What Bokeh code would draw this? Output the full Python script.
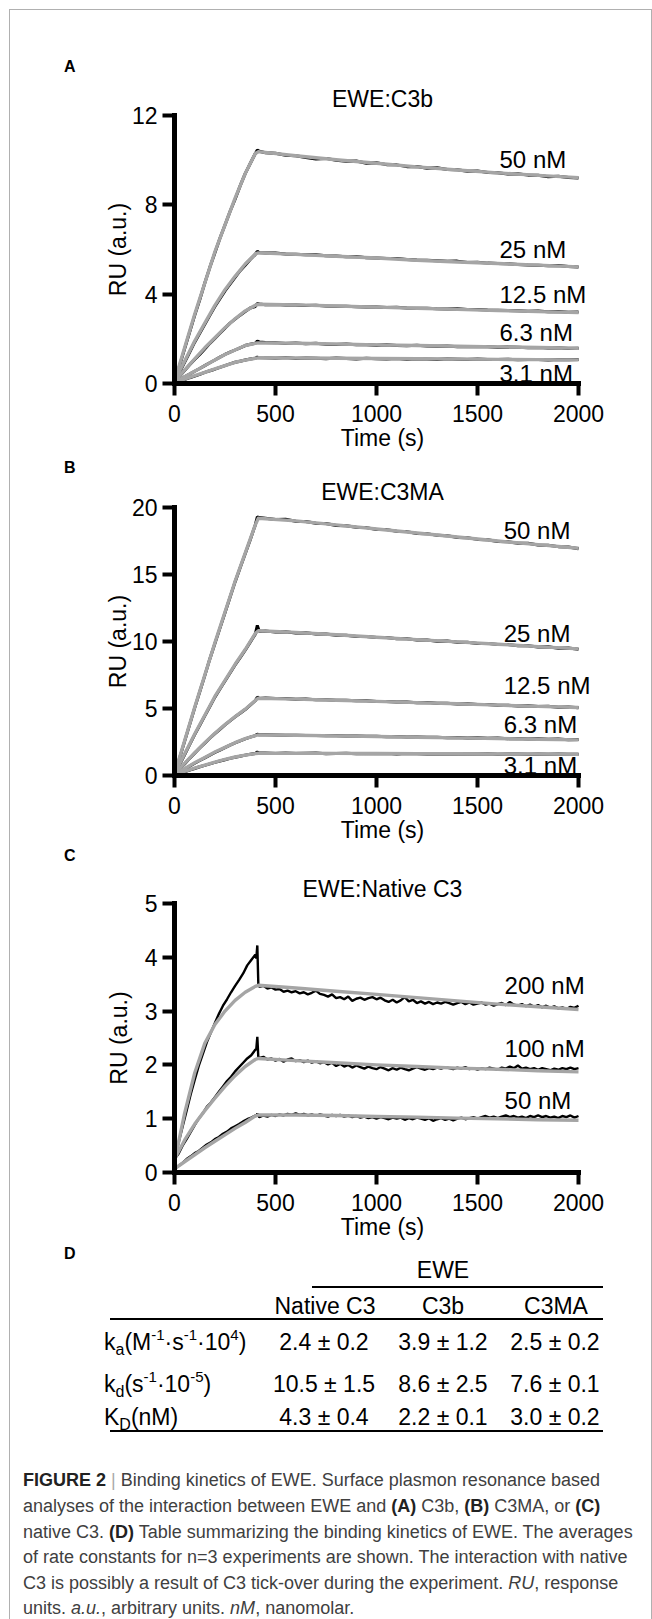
from bokeh.plotting import figure
from bokeh.models import Range1d, FixedTicker, Label, Div
from bokeh.layouts import column
from bokeh.embed import file_html
from bokeh.resources import INLINE

FONT = "Liberation Sans"
CSS_FONT = "'Liberation Sans',Arial,sans-serif"
GRAY = "#a5a5a5"

# ---------------- data ----------------
X_TICKS = [0, 500, 1000, 1500, 2000]

FIT_T = [0, 50, 100, 150, 200, 250, 300, 350, 400, 415, 600, 800, 1000, 1200, 1400, 1600, 1800, 2000]

TRACE_T = [0, 25, 50, 75, 100, 125, 150, 175, 200, 225, 250, 275, 300, 325, 350, 375, 400, 410, 420,
           450, 500, 550, 600, 650, 700, 750, 800, 850, 900, 950, 1000, 1050, 1100, 1150, 1200, 1250,
           1300, 1350, 1400, 1450, 1500, 1550, 1600, 1650, 1700, 1750, 1800, 1850, 1900, 1950, 2000]

# Panel A: EWE:C3b
A_LABELS = ["50 nM", "25 nM", "12.5 nM", "6.3 nM", "3.1 nM"]
A_YTICKS = [0, 4, 8, 12]
A_FIT_50 = [0.1, 1.6, 3.1, 4.5, 5.9, 7.1, 8.3, 9.4, 10.3, 10.38, 10.2, 10.02, 9.86, 9.7, 9.56, 9.43, 9.32, 9.22]
A_FIT_25 = [0.1, 1.0, 1.9, 2.7, 3.5, 4.2, 4.8, 5.35, 5.8, 5.85, 5.78, 5.7, 5.62, 5.52, 5.44, 5.37, 5.3, 5.22]
A_FIT_12 = [0.1, 0.6, 1.1, 1.6, 2.05, 2.5, 2.9, 3.25, 3.5, 3.55, 3.52, 3.47, 3.42, 3.37, 3.32, 3.27, 3.22, 3.18]
A_FIT_6 = [0.05, 0.3, 0.55, 0.8, 1.05, 1.3, 1.5, 1.7, 1.8, 1.82, 1.8, 1.77, 1.73, 1.7, 1.67, 1.64, 1.61, 1.58]
A_FIT_3 = [0.05, 0.2, 0.35, 0.5, 0.65, 0.8, 0.95, 1.05, 1.13, 1.15, 1.14, 1.13, 1.12, 1.11, 1.1, 1.08, 1.07, 1.06]

A_TR_50 = [0.0, 0.8, 1.55, 2.3, 3.05, 3.75, 4.5, 5.2, 5.85, 6.5, 7.1, 7.7, 8.25, 8.85, 9.4, 9.85, 10.3, 10.45, 10.4,
           10.33, 10.31, 10.22, 10.2, 10.12, 10.05, 10.08, 10.0, 9.95, 9.96, 9.86, 9.88, 9.8, 9.79, 9.71, 9.72,
           9.64, 9.66, 9.58, 9.57, 9.5, 9.52, 9.45, 9.44, 9.38, 9.39, 9.33, 9.32, 9.26, 9.28, 9.22, 9.2]
A_TR_25 = [0.0, 0.5, 0.95, 1.4, 1.85, 2.25, 2.65, 3.05, 3.45, 3.8, 4.15, 4.45, 4.75, 5.05, 5.3, 5.55, 5.78, 5.92, 5.86,
           5.84, 5.84, 5.8, 5.79, 5.76, 5.77, 5.72, 5.71, 5.68, 5.69, 5.63, 5.62, 5.6, 5.6, 5.55, 5.53,
           5.52, 5.5, 5.47, 5.48, 5.42, 5.43, 5.39, 5.37, 5.36, 5.33, 5.31, 5.3, 5.27, 5.28, 5.24, 5.22]
A_TR_12 = [0.0, 0.33, 0.58, 0.84, 1.08, 1.3, 1.55, 1.8, 2.02, 2.25, 2.48, 2.7, 2.88, 3.06, 3.22, 3.38, 3.45, 3.58, 3.56,
           3.53, 3.54, 3.51, 3.52, 3.49, 3.5, 3.47, 3.46, 3.46, 3.44, 3.42, 3.43, 3.4, 3.41, 3.38, 3.37,
           3.37, 3.35, 3.34, 3.35, 3.31, 3.31, 3.29, 3.28, 3.27, 3.26, 3.24, 3.25, 3.21, 3.22, 3.19, 3.2]
A_TR_6 = [0.0, 0.17, 0.3, 0.42, 0.55, 0.67, 0.8, 0.93, 1.05, 1.18, 1.3, 1.4, 1.5, 1.6, 1.7, 1.76, 1.8, 1.9, 1.86,
          1.84, 1.83, 1.79, 1.81, 1.78, 1.8, 1.76, 1.75, 1.77, 1.73, 1.74, 1.71, 1.73, 1.7, 1.69, 1.71,
          1.68, 1.67, 1.68, 1.65, 1.66, 1.64, 1.65, 1.62, 1.63, 1.62, 1.6, 1.61, 1.59, 1.6, 1.57, 1.58]
A_TR_3 = [0.0, 0.1, 0.18, 0.26, 0.33, 0.41, 0.5, 0.57, 0.64, 0.72, 0.8, 0.88, 0.95, 1.0, 1.05, 1.1, 1.13, 1.18, 1.16,
          1.15, 1.13, 1.16, 1.12, 1.14, 1.13, 1.11, 1.14, 1.12, 1.1, 1.13, 1.11, 1.1, 1.12, 1.09, 1.11,
          1.1, 1.08, 1.11, 1.09, 1.07, 1.1, 1.08, 1.07, 1.09, 1.06, 1.08, 1.07, 1.05, 1.08, 1.06, 1.07]

# Panel B: EWE:C3MA
B_LABELS = ["50 nM", "25 nM", "12.5 nM", "6.3 nM", "3.1 nM"]
B_YTICKS = [0, 5, 10, 15, 20]
B_FIT_50 = [0.1, 2.6, 5.1, 7.5, 9.9, 12.2, 14.5, 16.6, 18.7, 19.2, 19.0, 18.7, 18.4, 18.1, 17.8, 17.5, 17.23, 16.96]
B_FIT_25 = [0.1, 1.6, 3.1, 4.5, 5.9, 7.1, 8.3, 9.4, 10.6, 10.8, 10.68, 10.5, 10.32, 10.14, 9.97, 9.8, 9.62, 9.45]
B_FIT_12 = [0.1, 0.9, 1.7, 2.45, 3.15, 3.8, 4.4, 4.95, 5.6, 5.77, 5.7, 5.62, 5.53, 5.44, 5.35, 5.25, 5.16, 5.07]
B_FIT_6 = [0.05, 0.5, 0.95, 1.35, 1.75, 2.1, 2.45, 2.75, 2.98, 3.03, 3.0, 2.96, 2.91, 2.86, 2.81, 2.76, 2.71, 2.66]
B_FIT_3 = [0.05, 0.3, 0.55, 0.78, 1.0, 1.2, 1.38, 1.52, 1.63, 1.66, 1.66, 1.65, 1.64, 1.63, 1.62, 1.61, 1.6, 1.59]

B_TR_50 = [0.0, 1.3, 2.55, 3.8, 5.05, 6.25, 7.45, 8.7, 9.85, 11.0, 12.15, 13.3, 14.45, 15.5, 16.55, 17.6, 18.7, 19.3, 19.25,
           19.2, 19.1, 19.12, 18.98, 18.95, 18.82, 18.8, 18.66, 18.64, 18.52, 18.5, 18.36, 18.35, 18.22, 18.2, 18.06,
           18.05, 17.92, 17.9, 17.76, 17.75, 17.62, 17.6, 17.46, 17.45, 17.34, 17.33, 17.2, 17.18, 17.08, 17.05, 16.92]
B_TR_25 = [0.0, 0.8, 1.55, 2.3, 3.05, 3.75, 4.45, 5.15, 5.85, 6.45, 7.05, 7.65, 8.25, 8.8, 9.35, 9.95, 10.55, 11.2, 10.75,
           10.78, 10.7, 10.73, 10.64, 10.65, 10.56, 10.56, 10.47, 10.47, 10.38, 10.38, 10.29, 10.3, 10.2, 10.2, 10.11,
           10.12, 10.02, 10.03, 9.94, 9.95, 9.85, 9.86, 9.77, 9.77, 9.68, 9.69, 9.59, 9.6, 9.5, 9.51, 9.42]
B_TR_12 = [0.0, 0.48, 0.86, 1.28, 1.66, 2.05, 2.42, 2.78, 3.12, 3.45, 3.78, 4.08, 4.38, 4.65, 4.92, 5.25, 5.58, 5.85, 5.75,
           5.78, 5.74, 5.74, 5.69, 5.7, 5.66, 5.66, 5.61, 5.62, 5.57, 5.58, 5.52, 5.53, 5.48, 5.49, 5.43,
           5.44, 5.39, 5.39, 5.34, 5.35, 5.29, 5.3, 5.24, 5.25, 5.19, 5.21, 5.15, 5.16, 5.1, 5.12, 5.06]
B_TR_6 = [0.0, 0.25, 0.48, 0.7, 0.92, 1.12, 1.32, 1.52, 1.72, 1.9, 2.08, 2.26, 2.43, 2.58, 2.73, 2.86, 2.98, 3.08, 3.04,
          3.04, 3.02, 3.0, 3.01, 2.98, 2.99, 2.96, 2.97, 2.94, 2.95, 2.92, 2.93, 2.89, 2.91, 2.87, 2.88,
          2.85, 2.86, 2.82, 2.84, 2.8, 2.81, 2.78, 2.79, 2.75, 2.77, 2.73, 2.74, 2.7, 2.72, 2.67, 2.68]
B_TR_3 = [0.0, 0.15, 0.28, 0.4, 0.52, 0.65, 0.76, 0.87, 0.98, 1.08, 1.18, 1.28, 1.36, 1.44, 1.52, 1.58, 1.64, 1.75, 1.68,
          1.67, 1.65, 1.68, 1.64, 1.66, 1.67, 1.63, 1.65, 1.66, 1.62, 1.65, 1.63, 1.64, 1.61, 1.64, 1.62,
          1.6, 1.63, 1.61, 1.62, 1.6, 1.61, 1.62, 1.59, 1.61, 1.6, 1.58, 1.61, 1.59, 1.6, 1.58, 1.59]

# Panel C: EWE:Native C3
C_LABELS = ["200 nM", "100 nM", "50 nM"]
C_YTICKS = [0, 1, 2, 3, 4, 5]
C_FIT_200 = [0.2, 1.1, 1.85, 2.4, 2.75, 3.0, 3.2, 3.35, 3.46, 3.48, 3.43, 3.37, 3.31, 3.25, 3.19, 3.13, 3.08, 3.03]
C_FIT_100 = [0.25, 0.6, 0.9, 1.15, 1.38, 1.6, 1.8, 1.97, 2.1, 2.12, 2.08, 2.04, 2.0, 1.97, 1.94, 1.92, 1.89, 1.87]
C_FIT_50 = [0.07, 0.2, 0.33, 0.46, 0.58, 0.7, 0.82, 0.93, 1.05, 1.07, 1.07, 1.06, 1.04, 1.03, 1.01, 1.0, 0.98, 0.97]

C_TRACE_T = [0, 20, 40, 60, 80, 100, 120, 140, 160, 180, 200, 220, 240, 260, 280, 300, 320, 340, 360, 380,
             400, 405, 410, 415,
             420, 440, 460, 480, 500, 520, 540, 560, 580, 600, 620, 640, 660, 680, 700, 720, 740, 760, 780, 800,
             820, 840, 860, 880, 900, 920, 940, 960, 980, 1000, 1020, 1040, 1060, 1080, 1100, 1120, 1140, 1160,
             1180, 1200, 1220, 1240, 1260, 1280, 1300, 1320, 1340, 1360, 1380, 1400, 1420, 1440, 1460, 1480,
             1500, 1520, 1540, 1560, 1580, 1600, 1620, 1640, 1660, 1680, 1700, 1720, 1740, 1760, 1780, 1800,
             1820, 1840, 1860, 1880, 1900, 1920, 1940, 1960, 1980, 2000]
C_TR_200 = [0.25, 0.55, 0.85, 1.15, 1.45, 1.72, 1.98, 2.2, 2.42, 2.6, 2.78, 2.95, 3.1, 3.22, 3.35, 3.47, 3.58, 3.7,
            3.85, 3.95, 4.05, 3.98, 4.22, 3.5,
            3.45, 3.47, 3.42, 3.44, 3.4, 3.41, 3.36, 3.38, 3.35, 3.37,
            3.33, 3.35, 3.31, 3.34, 3.38, 3.32, 3.3, 3.27, 3.31, 3.24,
            3.26, 3.22, 3.27, 3.19, 3.23, 3.25, 3.21, 3.24, 3.26, 3.22,
            3.25, 3.2, 3.17, 3.21, 3.16, 3.2, 3.26, 3.18, 3.21, 3.15,
            3.18, 3.14, 3.17, 3.13, 3.16, 3.14, 3.17, 3.15, 3.12, 3.15,
            3.17, 3.13, 3.16, 3.12, 3.14, 3.16, 3.12, 3.14, 3.1, 3.13,
            3.15, 3.11, 3.17, 3.12, 3.1, 3.13, 3.09, 3.12, 3.08, 3.11,
            3.07, 3.1, 3.06, 3.09, 3.05, 3.07, 3.04, 3.08, 3.06, 3.1]
C_TR_100 = [0.25, 0.35, 0.5, 0.62, 0.75, 0.88, 1.0, 1.1, 1.22, 1.3, 1.4, 1.5, 1.6, 1.7, 1.78, 1.88, 1.96, 2.04,
            2.12, 2.18, 2.28, 2.3, 2.52, 2.14,
            2.13, 2.15, 2.1, 2.12, 2.08, 2.11, 2.06, 2.1, 2.12, 2.07,
            2.09, 2.05, 2.08, 2.04, 2.07, 2.03, 2.05, 2.01, 2.04, 1.98,
            2.02, 1.97, 2.0, 1.95, 1.99, 1.96, 1.93, 1.97, 1.94, 1.92,
            1.96, 1.93, 1.9, 1.94, 1.91, 1.95, 1.92, 1.9, 1.93, 1.96,
            1.93, 1.91, 1.94, 1.92, 1.95, 1.93, 1.96, 1.94, 1.92, 1.95,
            1.93, 1.96, 1.92, 1.94, 1.91, 1.94, 1.92, 1.95, 1.93, 1.91,
            1.95, 1.93, 1.97, 1.94, 1.99, 1.93, 1.95, 1.92, 1.94, 1.91,
            1.94, 1.92, 1.9, 1.93, 1.91, 1.94, 1.92, 1.95, 1.92, 1.94]
C_TR_50 = [0.07, 0.12, 0.18, 0.25, 0.3, 0.36, 0.4, 0.46, 0.52, 0.56, 0.62, 0.66, 0.72, 0.76, 0.82, 0.86, 0.9, 0.95,
           0.99, 1.02, 1.06, 1.04, 1.1, 1.05,
           1.03, 1.06, 1.04, 1.07, 1.05, 1.08, 1.06, 1.09, 1.07, 1.1,
           1.07, 1.09, 1.06, 1.08, 1.05, 1.08, 1.06, 1.04, 1.07, 1.05,
           1.07, 1.04, 1.06, 1.03, 1.05, 1.02, 1.04, 1.01, 1.03, 1.0,
           1.03, 1.01, 0.99, 1.02, 1.0, 1.02, 0.98, 1.01, 0.99, 1.02,
           1.0, 0.98, 1.01, 0.96, 0.99, 1.01, 0.98, 1.0, 0.97, 1.0,
           1.02, 0.99, 1.01, 1.03, 1.0, 1.03, 1.05, 1.02, 1.04, 1.01,
           1.04, 1.06, 1.03, 1.05, 1.02, 1.04, 1.01, 1.05, 1.03, 1.06,
           1.03, 1.05, 1.02, 1.04, 1.01, 1.05, 1.03, 1.06, 1.02, 1.05]

# Panel D: table
TABLE_GROUP = "EWE"
TABLE_COLS = ["Native C3", "C3b", "C3MA"]
KA_VALUES = ["2.4 ± 0.2", "3.9 ± 1.2", "2.5 ± 0.2"]
KOFF_VALUES = ["10.5 ± 1.5", "8.6 ± 2.5", "7.6 ± 0.1"]
KDEQ_VALUES = ["4.3 ± 0.4", "2.2 ± 0.1", "3.0 ± 0.2"]

# ---------------- layout constants ----------------
CONTENT_W = 641
FRAME_LEFT = 164          # from content left edge
PX_PER_S = 404 / 2000     # x scale of the plot frames
FRAME_W = 416             # frame extends a little right of t=2000 so the labels are not clipped
X_END = FRAME_W / PX_PER_S


def letter_div(letter, height, letter_top):
    html = (f'<div style="position:relative;width:{CONTENT_W}px;height:{height}px;'
            f'font-family:{CSS_FONT};color:#000;">'
            f'<div style="position:absolute;left:54px;top:{letter_top}px;font-size:16px;line-height:16px;'
            f'font-weight:bold;">{letter}</div></div>')
    return Div(text=html, width=CONTENT_W, height=height, margin=0)


def make_panel(title, title_standoff, ymax, yticks, fits, traces, trace_t, trace_w, labels, label_x, label_y,
               top, bottom, frame_h, ylab_standoff):
    p = figure(frame_width=FRAME_W, frame_height=frame_h,
               min_border_left=FRAME_LEFT, min_border_right=CONTENT_W - FRAME_LEFT - FRAME_W,
               min_border_top=top, min_border_bottom=bottom,
               x_range=Range1d(0, X_END), y_range=Range1d(0, ymax),
               toolbar_location=None, tools="", output_backend="svg", margin=0, title=title)
    p.background_fill_color = "white"
    p.border_fill_color = "white"
    p.outline_line_color = None
    p.grid.visible = False

    p.title.align = "center"
    p.title.offset = -(FRAME_W - 404) / 2 - 2
    p.title.standoff = title_standoff
    p.title.text_font = FONT
    p.title.text_font_size = "23px"
    p.title.text_font_style = "normal"
    p.title.text_color = "black"

    for tv in traces:
        n = min(len(trace_t), len(tv))
        p.line(trace_t[:n], tv[:n], line_color="black", line_width=trace_w)
    for fv in fits:
        p.line(FIT_T, fv, line_color=GRAY, line_width=3.4, line_join="round")

    p.xaxis.ticker = FixedTicker(ticks=X_TICKS)
    p.yaxis.ticker = FixedTicker(ticks=yticks)
    p.xaxis.bounds = (0, 2000)
    p.xaxis.axis_label = "Time (s)"
    p.yaxis.axis_label = "RU (a.u.)"
    for ax in (p.xaxis, p.yaxis):
        ax.axis_line_width = 5
        ax.axis_line_color = "black"
        ax.axis_line_cap = "square"
        ax.major_tick_line_width = 4
        ax.major_tick_line_color = "black"
        ax.major_tick_out = 12
        ax.major_tick_in = 0
        ax.minor_tick_line_color = None
        ax.major_label_text_font = FONT
        ax.major_label_text_font_size = "23px"
        ax.major_label_text_color = "black"
        ax.axis_label_text_font = FONT
        ax.axis_label_text_font_size = "23px"
        ax.axis_label_text_font_style = "normal"
        ax.axis_label_text_color = "black"
    p.xaxis.major_label_standoff = 9
    p.xaxis.axis_label_standoff = 0
    p.yaxis.major_label_standoff = 5
    p.yaxis.axis_label_standoff = ylab_standoff

    for txt, yy in zip(labels, label_y):
        p.add_layout(Label(x=label_x, y=yy, text=txt, text_font=FONT, text_font_size="24px",
                           text_align="left", text_baseline="alphabetic", text_color="black"))
    return p


hA = letter_div("A", 66, 49)
pA = make_panel("EWE:C3b", 7, 12, A_YTICKS,
                [A_FIT_50, A_FIT_25, A_FIT_12, A_FIT_6, A_FIT_3],
                [A_TR_50, A_TR_25, A_TR_12, A_TR_6, A_TR_3], TRACE_T, 3.0,
                A_LABELS, 1609, [10.01, 6.0, 3.97, 2.27, 0.47],
                top=39, bottom=72, frame_h=268, ylab_standoff=-2)
hB = letter_div("B", 19, 5)
pB = make_panel("EWE:C3MA", 5, 20, B_YTICKS,
                [B_FIT_50, B_FIT_25, B_FIT_12, B_FIT_6, B_FIT_3],
                [B_TR_50, B_TR_25, B_TR_12, B_TR_6, B_TR_3], TRACE_T, 3.0,
                B_LABELS, 1630, [18.26, 10.56, 6.7, 3.84, 0.73],
                top=32, bottom=68, frame_h=268, ylab_standoff=-2)
hC = letter_div("C", 18, 3)
pC = make_panel("EWE:Native C3", 3, 5, C_YTICKS,
                [C_FIT_200, C_FIT_100, C_FIT_50],
                [C_TR_200, C_TR_100, C_TR_50], C_TRACE_T, 2.4,
                C_LABELS, 1634, [3.47, 2.30, 1.33],
                top=40, bottom=71, frame_h=269, ylab_standoff=10)

# ---------------- table (D) ----------------
SUP = 'style="font-size:15px;position:relative;top:-10px;"'
SUB = 'style="font-size:16px;position:relative;top:5px;"'
row_labels = [
    f'k<span {SUB}>a</span>(M<span {SUP}>-1</span>·s<span {SUP}>-1</span>·10<span {SUP}>4</span>)',
    f'k<span {SUB}>d</span>(s<span {SUP}>-1</span>·10<span {SUP}>-5</span>)',
    f'K<span {SUB}>D</span>(nM)',
]
rows = [KA_VALUES, KOFF_VALUES, KDEQ_VALUES]
row_tops = [88, 130, 163]
head_centers = [315, 433, 546]
val_centers = [314, 433, 545]


def box(left, top, html, extra=""):
    return (f'<div style="position:absolute;left:{left}px;top:{top}px;font-size:23px;'
            f'line-height:23px;white-space:nowrap;{extra}">{html}</div>')


parts = [box(54, 3, "D", "font-size:16px;line-height:16px;font-weight:bold;")]
parts.append(box(333, 16, TABLE_GROUP, "width:200px;text-align:center;"))
parts.append('<div style="position:absolute;left:302px;top:43px;width:291px;height:2px;background:#000;"></div>')
for c, name in zip(head_centers, TABLE_COLS):
    parts.append(box(c - 100, 52, name, "width:200px;text-align:center;"))
parts.append('<div style="position:absolute;left:100px;top:75px;width:493px;height:2px;background:#000;"></div>')
for lab, vals, t in zip(row_labels, rows, row_tops):
    parts.append(box(94, t, lab))
    for c, v in zip(val_centers, vals):
        parts.append(box(c - 100, t, v, "width:200px;text-align:center;"))
parts.append('<div style="position:absolute;left:100px;top:187px;width:493px;height:2px;background:#000;"></div>')

table_html = (f'<div style="position:relative;width:{CONTENT_W}px;height:210px;font-family:{CSS_FONT};'
              'color:#000;">' + "".join(parts) + '</div>')
table_div = Div(text=table_html, width=CONTENT_W, height=210, margin=0)

# ---------------- caption ----------------
CAPTION_LINES = [
    '<b style="color:#222">FIGURE 2</b> <span style="color:#aaa">|</span> Binding kinetics of EWE. Surface plasmon resonance based',
    'analyses of the interaction between EWE and <b style="color:#222">(A)</b> C3b, <b style="color:#222">(B)</b> C3MA, or <b style="color:#222">(C)</b>',
    'native C3. <b style="color:#222">(D)</b> Table summarizing the binding kinetics of EWE. The averages',
    'of rate constants for n=3 experiments are shown. The interaction with native',
    'C3 is possibly a result of C3 tick-over during the experiment. <i>RU</i>, response',
    'units. <i>a.u.</i>, arbitrary units. <i>nM</i>, nanomolar.',
]
caption_html = (f'<div style="position:relative;width:{CONTENT_W}px;height:168px;">'
                f'<div style="position:absolute;left:13px;top:15.4px;font-family:{CSS_FONT};'
                'font-size:18px;line-height:25.6px;color:#404040;white-space:nowrap;">'
                + "<br>".join(CAPTION_LINES) + '</div></div>')
caption_div = Div(text=caption_html, width=CONTENT_W, height=168, margin=0)

layout = column(hA, pA, hB, pB, hC, pC, table_div, caption_div, spacing=0,
                margin=(9, 0, 0, 9),
                styles={"border-top": "1px solid #b0b0b0", "border-left": "1px solid #b0b0b0",
                        "border-right": "1px solid #b0b0b0"})

open("out.html", "w").write(file_html(layout, INLINE))
